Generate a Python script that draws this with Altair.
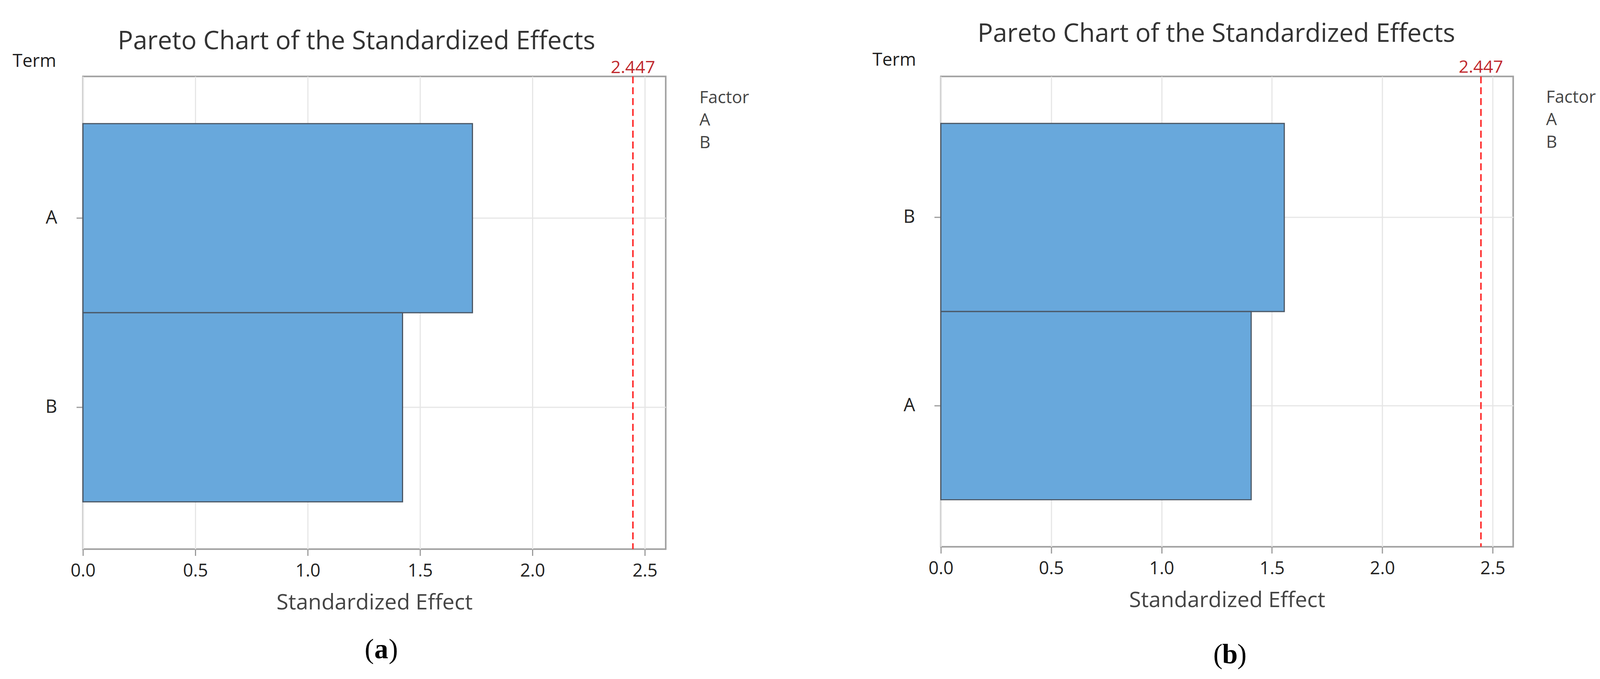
import altair as alt
import pandas as pd

# ---- data ----
terms_a = ["A", "B"]
effects_a = [1.733, 1.422]
terms_b = ["B", "A"]
effects_b = [1.556, 1.406]
critical_value = 2.447
x_max = 2.593
x_ticks = [0.0, 0.5, 1.0, 1.5, 2.0, 2.5]
factor_names = ["A", "B"]
captions = ["a", "b"]

chart_title = "Pareto Chart of the Standardized Effects"
x_title = "Standardized Effect"
y_title = "Term"
legend_title = "Factor"

BAR_FILL = "#68a8dc"
BAR_STROKE = "#4b5765"
RULE_RED = "#ff2a2a"
LABEL_RED = "#c0282d"
FONT = "Open Sans"
LEG_FS = 44


def panel(terms, effects, caption, w, h, lay):
    df = pd.DataFrame({"Term": terms, "Effect": effects})
    crit_df = pd.DataFrame({"crit": [critical_value], "label": [f"{critical_value:.3f}"]})
    one = pd.DataFrame({"k": [0]})

    x_axis = alt.Axis(
        values=x_ticks, format=".1f", title=x_title, labelFlush=False, labelOverlap=False,
        labelFontSize=46, labelColor="#222222", labelPadding=17,
        tickSize=17, tickColor="#9a9a9a", tickWidth=3, domain=False,
        grid=True, gridColor="#e6e6e6", gridWidth=3,
        titleFontSize=56, titleFontWeight="normal", titleColor="#444444", titlePadding=32,
    )
    x_scale = alt.Scale(domain=[0, x_max], nice=False, zero=True)

    y_axis = alt.Axis(
        title=y_title, titleAngle=0, titleAlign="left", titleBaseline="alphabetic",
        titleX=lay["term_x"], titleY=lay["term_y"], titleFontSize=46,
        titleFontWeight="normal", titleColor="#1e1e1e",
        labelFontSize=47, labelColor="#222222", labelPadding=50,
        tickSize=17, tickColor="#9a9a9a", tickWidth=3, domain=False,
        grid=True, gridColor="#e6e6e6", gridWidth=3,
    )

    bars = alt.Chart(df).mark_bar(stroke=BAR_STROKE, strokeWidth=3, opacity=1).encode(
        x=alt.X("Effect:Q", scale=x_scale, axis=x_axis),
        y=alt.Y("Term:N", sort=terms,
                scale=alt.Scale(paddingInner=0, paddingOuter=0.25), axis=y_axis),
        color=alt.Color(
            "Term:N",
            scale=alt.Scale(domain=factor_names, range=[BAR_FILL, BAR_FILL]),
            legend=alt.Legend(
                orient="none", legendX=w + lay["leg_dx"], legendY=lay["leg_y"],
                title=legend_title, titleFontSize=LEG_FS, titleFontWeight="normal",
                titleColor="#444444", titlePadding=14, titleAnchor="start",
                labelFontSize=LEG_FS, labelColor="#444444",
                labelOffset={"expr": str(-LEG_FS)},
                symbolSize=0, symbolOpacity=0, symbolStrokeWidth=0,
                padding=0, rowPadding=14,
            ),
        ),
    )

    rule = alt.Chart(crit_df).mark_rule(
        color=RULE_RED, strokeWidth=4, strokeDash=[18, 10]
    ).encode(x=alt.X("crit:Q", title=x_title))

    crit_label = alt.Chart(crit_df).mark_text(
        fontSize=45, color=LABEL_RED, align="center", baseline="alphabetic"
    ).encode(x=alt.X("crit:Q", title=x_title), y=alt.value(lay["crit_y"]), text="label:N")

    title = alt.Chart(one).mark_text(
        fontSize=66, color="#333333", align="center", baseline="alphabetic"
    ).encode(x=alt.value(lay["title_x"]), y=alt.value(lay["title_y"]), text=alt.value(chart_title))

    cap_x = lay["cap_x"]
    cap_y = h + lay["cap_dy"]
    cap_l = alt.Chart(one).mark_text(
        font="Liberation Serif", fontSize=72, color="#000000", align="right", baseline="alphabetic"
    ).encode(x=alt.value(cap_x - 19), y=alt.value(cap_y), text=alt.value("("))
    cap_m = alt.Chart(one).mark_text(
        font="Liberation Serif", fontSize=72, fontWeight="bold", color="#000000",
        align="center", baseline="alphabetic"
    ).encode(x=alt.value(cap_x), y=alt.value(cap_y), text=alt.value(caption))
    cap_r = alt.Chart(one).mark_text(
        font="Liberation Serif", fontSize=72, color="#000000", align="left", baseline="alphabetic"
    ).encode(x=alt.value(cap_x + 19), y=alt.value(cap_y), text=alt.value(")"))

    # invisible anchor so both panels share the same top reference
    anchor = alt.Chart(one).mark_text(
        fontSize=2, opacity=0, baseline="top", align="left"
    ).encode(x=alt.value(0), y=alt.value(lay["anchor_y"]), text=alt.value("."))

    return alt.layer(bars, rule, crit_label, title, cap_l, cap_m, cap_r, anchor).properties(
        width=w, height=h
    )


lay_a = dict(term_x=-182, term_y=-25, leg_dx=87, leg_y=34, crit_y=-8,
             title_x=706, title_y=-70, cap_x=770, cap_dy=282, anchor_y=-168)
lay_b = dict(term_x=-177, term_y=-28, leg_dx=85, leg_y=33, crit_y=-9,
             title_x=711, title_y=-89, cap_x=746, cap_dy=301, anchor_y=-155)

pa = panel(terms_a, effects_a, captions[0], 1504, 1219, lay_a)
pb = panel(terms_b, effects_b, captions[1], 1477, 1213, lay_b)

chart = alt.hconcat(pa, pb, spacing=313).resolve_scale(
    color="independent", x="independent", y="independent"
).resolve_legend(color="independent").properties(
    padding={"left": 22, "top": 12, "right": 0, "bottom": 4}
).configure(font=FONT).configure_view(
    stroke="#a0a0a0", strokeWidth=4
).configure_text(font=FONT)

chart.save("out.html", embed_options={"renderer": "svg", "actions": False})
